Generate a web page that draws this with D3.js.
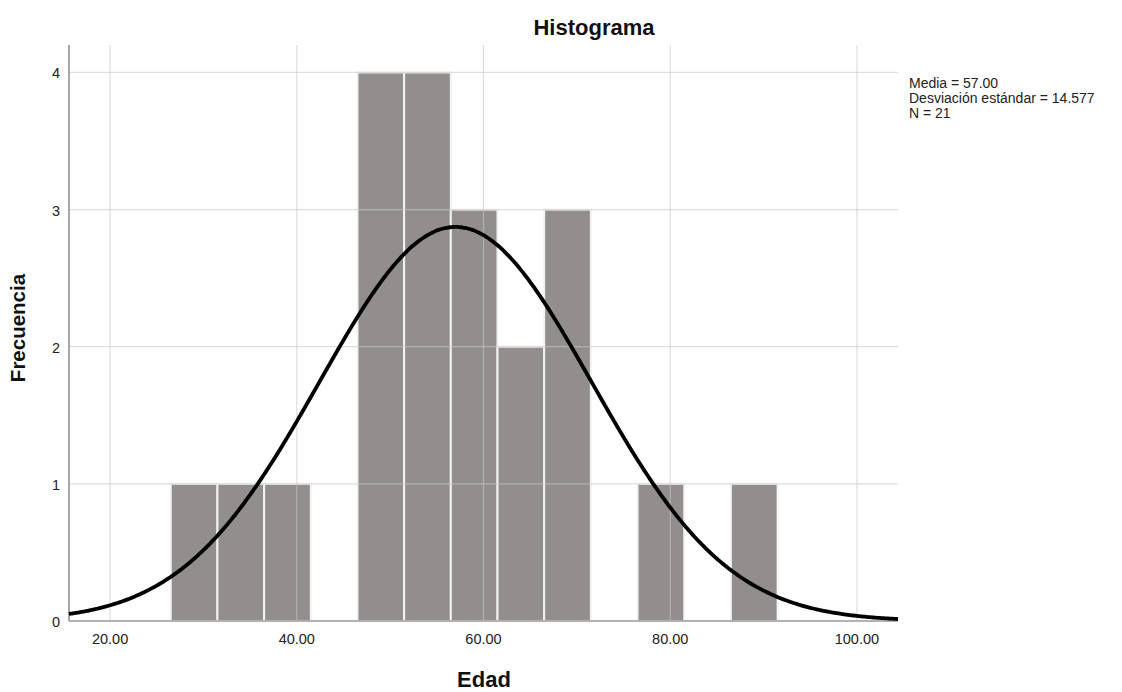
<!DOCTYPE html>
<html><head><meta charset="utf-8">
<script src="https://cdn.jsdelivr.net/npm/d3@7"></script>
<style>body{margin:0;background:#fff;} text{font-family:"Liberation Sans",Arial,sans-serif;}</style>
</head><body><svg id="c" width="1122" height="692"></svg>
<script>
const binStarts = [26.5, 31.5, 36.5, 46.5, 51.5, 56.5, 61.5, 66.5, 76.5, 86.5];
const binCounts = [1, 1, 1, 4, 4, 3, 2, 3, 1, 1];
const binWidth = 5;
const xTicks = [20, 40, 60, 80, 100];
const yTicks = [0, 1, 2, 3, 4];
const mean = 57.00, sd = 14.577, n = 21;
const legendLines = ["Media = 57.00", "Desviación estándar = 14.577", "N = 21"];

const svg = d3.select("#c");
const L = 69, R = 898, T = 45, B = 621;
const x = d3.scaleLinear().domain([15.6, 104.4]).range([L, R]);
const y = d3.scaleLinear().domain([0, 4.2]).range([B, T]);

// bars
svg.append("g").selectAll("rect").data(binStarts.map((s,i)=>({s, c:binCounts[i]}))).join("rect")
  .attr("x", d=>x(d.s)).attr("width", d=>x(d.s+binWidth)-x(d.s))
  .attr("y", d=>y(d.c)).attr("height", d=>B-y(d.c))
  .attr("fill", "#918e8d").attr("stroke", "#f2f2f2").attr("stroke-width", 2);

// grid (drawn faintly over bars too)
svg.append("g").selectAll("line").data(yTicks.filter(d=>d>0)).join("line")
  .attr("x1", L).attr("x2", R).attr("y1", d=>y(d)).attr("y2", d=>y(d))
  .attr("stroke", "#c8c8c8").attr("stroke-opacity", 0.6).attr("stroke-width", 1.2);
svg.append("g").selectAll("line").data(xTicks).join("line")
  .attr("x1", d=>x(d)).attr("x2", d=>x(d)).attr("y1", T).attr("y2", B)
  .attr("stroke", "#c8c8c8").attr("stroke-opacity", 0.6).attr("stroke-width", 1.2);

// axes lines
svg.append("line").attr("x1", L).attr("x2", L).attr("y1", T).attr("y2", B).attr("stroke", "#8a8a8a").attr("stroke-width", 1.5);
svg.append("line").attr("x1", L).attr("x2", R).attr("y1", B).attr("y2", B).attr("stroke", "#9a9a9a").attr("stroke-width", 1.5);

// normal curve
const pdf = v => n*binWidth/(sd*Math.sqrt(2*Math.PI))*Math.exp(-0.5*((v-mean)/sd)**2);
const pts = d3.range(15.6, 104.41, 0.2).map(v=>[v, pdf(v)]);
svg.append("path").datum(pts)
  .attr("d", d3.line().x(d=>x(d[0])).y(d=>y(d[1])).curve(d3.curveBasis))
  .attr("fill", "none").attr("stroke", "#000").attr("stroke-width", 3.8);

// tick labels
svg.append("g").selectAll("text").data(xTicks).join("text")
  .attr("x", d=>x(d)).attr("y", 644).attr("text-anchor", "middle")
  .attr("font-size", 14.5).attr("fill", "#222").text(d=>d.toFixed(2));
svg.append("g").selectAll("text").data(yTicks).join("text")
  .attr("x", 60).attr("y", d=>y(d)+6).attr("text-anchor", "end")
  .attr("font-size", 14.5).attr("fill", "#222").text(d=>d);

// titles
svg.append("text").attr("x", 594).attr("y", 35).attr("text-anchor", "middle")
  .attr("font-size", 22).attr("font-weight", "bold").attr("fill", "#111").text("Histograma");
svg.append("text").attr("x", 484).attr("y", 687).attr("text-anchor", "middle")
  .attr("font-size", 22).attr("font-weight", "bold").attr("fill", "#111").text("Edad");
svg.append("text").attr("transform", "translate(25,328) rotate(-90)").attr("text-anchor", "middle")
  .attr("font-size", 20.5).attr("font-weight", "bold").attr("fill", "#111").text("Frecuencia");

// legend
svg.append("g").selectAll("text").data(legendLines).join("text")
  .attr("x", 909).attr("y", (d,i)=>88+i*15).attr("font-size", 14).attr("fill", "#222").text(d=>d);
</script></body></html>
